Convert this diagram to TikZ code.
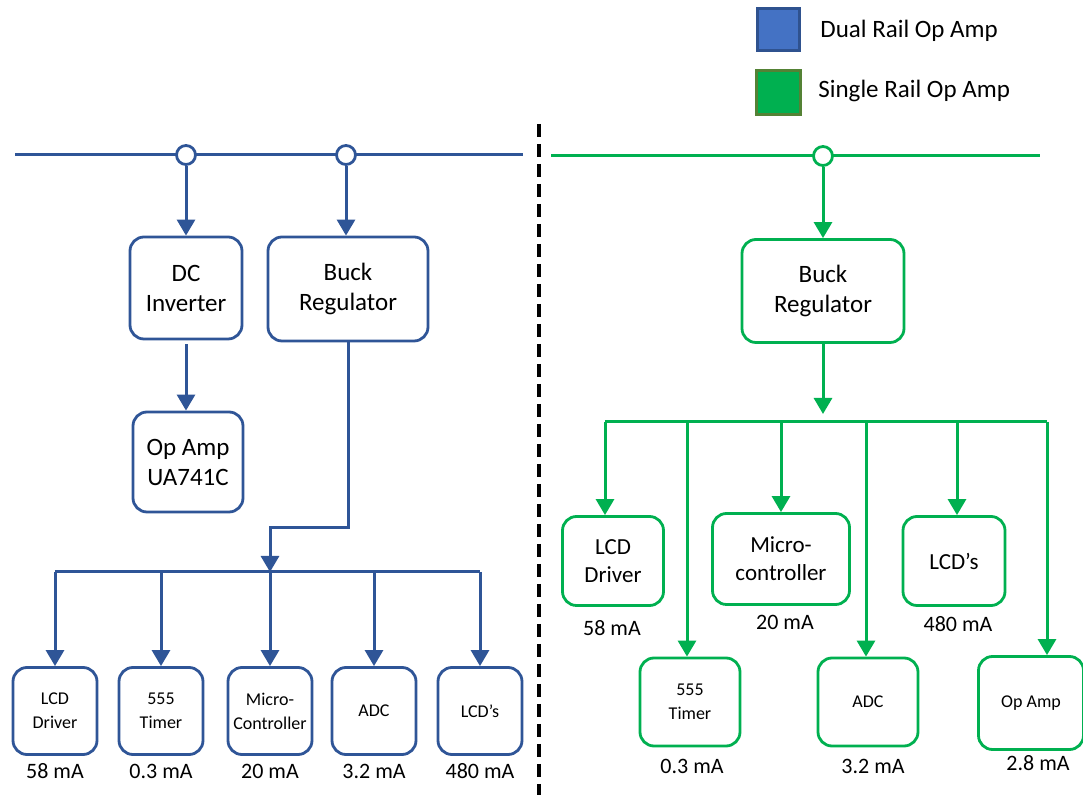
\documentclass[tikz,border=0pt]{standalone}
\usepackage{fontspec}
\setmainfont{Carlito}
\usetikzlibrary{arrows.meta}
\definecolor{railblue}{RGB}{47,85,151}
\definecolor{railgreen}{RGB}{0,176,80}
\definecolor{keyblue}{RGB}{68,114,196}
\definecolor{keyblueedge}{RGB}{47,82,143}
\definecolor{keygreenedge}{RGB}{84,130,53}

\begin{document}
\begin{tikzpicture}[x=0.5pt, y=-0.5pt,
    blk/.style={draw=#1, line width=1.4pt, rounded corners=7pt, align=center, inner sep=0pt},
    big/.style={blk=#1, font=\fontsize{12.5}{15}\selectfont},
    mid/.style={blk=#1, font=\fontsize{11.5}{14}\selectfont},
    small/.style={blk=#1, font=\fontsize{9}{12}\selectfont},
    amps/.style={inner sep=0pt, font=\fontsize{11}{13}\selectfont},
    rail/.style={draw=#1, line width=1.5pt},
    flow/.style={draw=#1, line width=1.5pt, -{Triangle[length=8pt,width=9pt]}},
    tap/.style={circle, draw=#1, fill=white, line width=1.4pt, minimum size=9.5pt, inner sep=0pt},
    key/.style={anchor=west, inner sep=0pt, font=\fontsize{12.5}{15}\selectfont}]
    \useasboundingbox (0,0) rectangle (1083,795);

    % legend
    \node[draw=keyblueedge, fill=keyblue, line width=1.5pt, minimum size=21pt, inner sep=0pt] (keyDual) at (778.5,30) {};
    \node[key] (keyDualText) at (820,31) {Dual Rail Op Amp};
    \node[draw=keygreenedge, fill=railgreen, line width=1.5pt, minimum size=22pt, inner sep=0pt] (keySingle) at (778.5,93) {};
    \node[key] (keySingleText) at (818,91) {Single Rail Op Amp};

    % divider
    \coordinate (divTop) at (539,124);
    \coordinate (divBot) at (539,795);
    \draw[black, line width=1.75pt, dash pattern=on 6.5pt off 3.5pt] (divTop) -- (divBot);

    % dual rail side
    \coordinate (railLa) at (15,155);
    \coordinate (railLb) at (523,155);
    \draw[rail=railblue] (railLa) -- (railLb);
    \node[tap=railblue] (tapInv) at (186,155) {};
    \node[tap=railblue] (tapBuckL) at (346,155) {};

    \node[big=railblue, minimum width=56pt, minimum height=51pt] (inv) at (186,288) {DC\\Inverter};
    \node[big=railblue, minimum width=80pt, minimum height=52pt] (buckL) at (348,289) {Buck\\Regulator};
    \node[big=railblue, minimum width=55pt, minimum height=50pt] (opamp) at (188,462) {Op Amp\\UA741C};

    \draw[flow=railblue] (tapInv) -- (inv);
    \draw[flow=railblue] (tapBuckL) -- (tapBuckL |- buckL.north);
    \draw[flow=railblue] (inv.south) ++(0,4) -- (inv.south |- opamp.north);

    \coordinate (tapL) at (270,572);
    \draw[flow=railblue] (buckL.south) -- ++(0,185) -| (tapL);

    \foreach \n/\x/\t/\i in {lcdL/55/{LCD\\Driver}/58 mA, timerL/161/{555\\Timer}/0.3 mA,
        mcuL/270/{Micro-\\Controller}/20 mA, adcL/374/ADC/3.2 mA, lcdsL/480/LCD’s/480 mA}{
        \node[small=railblue, minimum width=42pt, minimum height=43.5pt] (\n) at (\x,711) {\t};
        \node[amps] (\n-i) at (\x,771) {\i};
    }
    \draw[rail=railblue] (lcdL.north |- tapL) -- (lcdsL.north |- tapL);
    \foreach \n in {lcdL,timerL,mcuL,adcL,lcdsL}
        \draw[flow=railblue] (\n.north |- tapL) -- (\n);

    % single rail side
    \coordinate (railRa) at (551,156);
    \coordinate (railRb) at (1040,156);
    \draw[rail=railgreen] (railRa) -- (railRb);
    \node[tap=railgreen] (tapBuckR) at (823,156) {};
    \node[big=railgreen, minimum width=81pt, minimum height=51.5pt] (buckR) at (823,291) {Buck\\Regulator};
    \draw[flow=railgreen] (tapBuckR) -- (buckR);

    \coordinate (tapR) at (823,422);
    \draw[flow=railgreen, shorten >=4pt] (buckR) -- (tapR);

    \node[mid=railgreen, minimum width=50.5pt, minimum height=44.5pt] (lcdR) at (613,561) {LCD\\Driver};
    \node[mid=railgreen, minimum width=68.5pt, minimum height=45.5pt] (mcuR) at (781,559) {Micro-\\controller};
    \node[mid=railgreen, minimum width=51pt, minimum height=44.5pt] (lcdsR) at (954,561) {LCD’s};
    \node[small=railgreen, minimum width=50pt, minimum height=44pt] (timerR) at (690,702) {555\\Timer};
    \node[small=railgreen, minimum width=50pt, minimum height=44pt] (adcR) at (868,702) {ADC};
    \node[small=railgreen, minimum width=52.5pt, minimum height=46.5pt] (opampR) at (1031,703) {Op Amp};

    \node[amps] (lcdR-i) at (612,628) {58 mA};
    \node[amps] (mcuR-i) at (785,622) {20 mA};
    \node[amps] (lcdsR-i) at (958,624) {480 mA};
    \node[amps] (timerR-i) at (692,766) {0.3 mA};
    \node[amps] (adcR-i) at (873,766) {3.2 mA};
    \node[amps] (opampR-i) at (1038,763) {2.8 mA};

    \draw[rail=railgreen] (605,422) -- (1047,422);
    \foreach \n/\x in {lcdR/605, timerR/687, mcuR/781, adcR/866, lcdsR/957, opampR/1047}{
        \coordinate (\n-top) at (\x,422);
        \draw[flow=railgreen] (\n-top) -- (\n-top |- \n.north);
    }
\end{tikzpicture}
\end{document}
